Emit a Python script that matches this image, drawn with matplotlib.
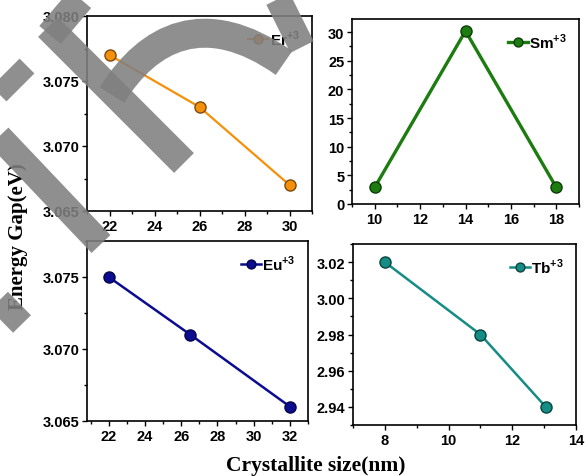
import matplotlib
matplotlib.use("Agg")
import matplotlib.pyplot as plt
from matplotlib.lines import Line2D
from matplotlib.patches import PathPatch
from matplotlib.path import Path
from matplotlib.ticker import MultipleLocator, FormatStrFormatter
import matplotlib.transforms as mtransforms

plt.rcParams['font.family'] = ['Liberation Sans', 'DejaVu Sans']
plt.rcParams['font.weight'] = 'bold'
plt.rcParams['mathtext.fontset'] = 'custom'
plt.rcParams['mathtext.bf'] = 'Liberation Sans:bold'
plt.rcParams['mathtext.rm'] = 'Liberation Sans:bold'

# ---- data ----
er_x = [22, 26, 30]
er_y = [3.077, 3.073, 3.067]
sm_x = [10, 14, 18]
sm_y = [2.9, 30.2, 2.9]
eu_x = [22, 26.5, 32]
eu_y = [3.075, 3.071, 3.066]
tb_x = [8, 11, 13.05]
tb_y = [3.02, 2.98, 2.94]

labels = ["Er$^{\\mathbf{+3}}$", "Sm$^{\\mathbf{+3}}$", "Eu$^{\\mathbf{+3}}$", "Tb$^{\\mathbf{+3}}$"]
xlabel = "Crystallite size(nm)"
ylabel = "Energy Gap(eV)"

W, H = 585, 477
fig = plt.figure(figsize=(W / 100, H / 100), dpi=100)

def px_axes(l, t, r, b):
    return fig.add_axes([l / W, 1 - b / H, (r - l) / W, (b - t) / H])

panels = [
    dict(box=(87, 17, 312, 212), x=er_x, y=er_y, lab=labels[0], c='#f5900a', ec='#7a4a10',
         xlim=(21, 31), ylim=(3.065, 3.080), xmaj=2, ymaj=0.005, fmt='%.3f', lw=1.6),
    dict(box=(352, 20, 579, 205), x=sm_x, y=sm_y, lab=labels[1], c='#1c7c10', ec='#0d3d08',
         xlim=(9, 19), ylim=(0, 32.3), xmaj=2, ymaj=5, fmt='%d', lw=2.4),
    dict(box=(87, 242, 308, 422), x=eu_x, y=eu_y, lab=labels[2], c='#0c0c90', ec='#05054a',
         xlim=(20.8, 33), ylim=(3.065, 3.0775), xmaj=2, ymaj=0.005, fmt='%.3f', lw=1.8),
    dict(box=(353, 245, 576, 426), x=tb_x, y=tb_y, lab=labels[3], c='#158c84', ec='#0a4440',
         xlim=(7, 14), ylim=(2.93, 3.03), xmaj=2, ymaj=0.02, fmt='%.2f', lw=1.8),
]

for p in panels:
    ax = px_axes(*p['box'])
    ax.plot(p['x'], p['y'], '-o', color=p['c'], lw=p['lw'], ms=8,
            mfc=p['c'], mec=p['ec'], mew=1.0, label=p['lab'], clip_on=False, zorder=3)
    ax.set_xlim(*p['xlim'])
    ax.set_ylim(*p['ylim'])
    ax.xaxis.set_major_locator(MultipleLocator(p['xmaj']))
    ax.xaxis.set_minor_locator(MultipleLocator(p['xmaj'] / 2))
    ax.yaxis.set_major_locator(MultipleLocator(p['ymaj']))
    ax.yaxis.set_minor_locator(MultipleLocator(p['ymaj'] / 2))
    ax.yaxis.set_major_formatter(FormatStrFormatter(p['fmt']))
    ax.tick_params(which='both', direction='out', top=False, right=False, width=1.0)
    ax.tick_params(which='major', length=3.5, labelsize=10.5, pad=2)
    ax.tick_params(which='minor', length=2)
    for lbl in ax.get_xticklabels() + ax.get_yticklabels():
        lbl.set_fontweight('bold')
    for s in ax.spines.values():
        s.set_linewidth(1.2)
    ax.legend(loc='upper right', frameon=False, handlelength=1.3, handletextpad=0.1,
              borderaxespad=0.4, prop={'weight': 'bold', 'size': 11}, markerscale=0.8)

fig.text(18 / W, 1 - 237 / H, ylabel, rotation=90, ha='center', va='center',
         fontsize=15, fontweight='bold', family=['Liberation Serif', 'DejaVu Serif'])
fig.text(316 / W, 1 - 466 / H, xlabel, ha='center', va='center',
         fontsize=15.5, fontweight='bold', family=['Liberation Serif', 'DejaVu Serif'])

# ---- grey watermark overlay (figure pixel coordinates) ----
T = mtransforms.Affine2D().scale(1 / W, -1 / H).translate(0, 1) + fig.transFigure
wm_col = '#808080'
wm_alpha = 0.88
px2pt = 0.72
strokes = [
    ([48, 184], [28, 164], 28),     # stem
    ([50, 94], [36, -16], 28),      # upper arm
    ([-30, 101], [107, 245], 26),   # lower-left band
    ([27, -20], [67, 114], 21),     # short stub
    ([-30, 22], [272, 325], 25),    # bottom-left band
    ([272, 302], [-12, 48], 26),    # top-right band
]
for xs, ys, w in strokes:
    fig.add_artist(Line2D(xs, ys, lw=w * px2pt, color=wm_col, alpha=wm_alpha,
                          solid_capstyle='butt', transform=T, zorder=50))
curve = Path([(112, 96), (148, 38), (205, 8), (284, 64)],
             [Path.MOVETO, Path.CURVE4, Path.CURVE4, Path.CURVE4])
fig.add_artist(PathPatch(curve, fill=False, edgecolor=wm_col, alpha=wm_alpha, lw=29 * px2pt,
                         capstyle='butt', transform=T, zorder=50))

fig.savefig('out.png', dpi=100)
